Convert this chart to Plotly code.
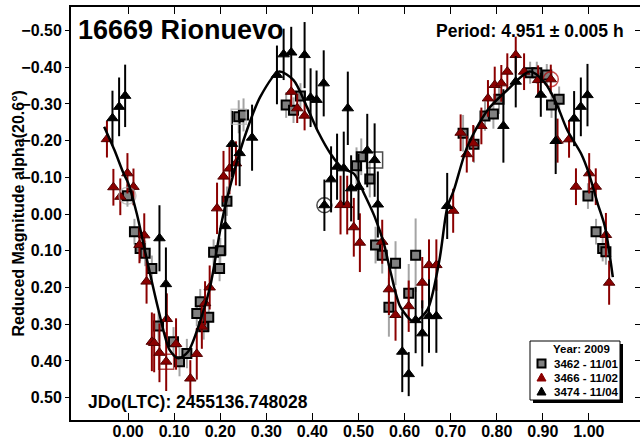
import plotly.graph_objects as go

FONT = "Liberation Sans, Arial, sans-serif"

# ---------------- data (phase, reduced magnitude, error) ----------------
gray_x = [-0.0015, 0.0137, 0.026, 0.037, 0.0515, 0.066, 0.0985, 0.1115, 0.1275, 0.149,
          0.1565, 0.164, 0.175, 0.1855, 0.2, 0.1985, 0.2145, 0.24, 0.2505, 0.343,
          0.359, 0.374, 0.4957, 0.506, 0.5245, 0.537, 0.5515, 0.5804, 0.624, 0.566,
          0.609, 0.727, 0.7507, 0.7746, 0.7928, 0.805, 0.8725, 0.887, 0.9087, 0.919,
          0.9355, 0.998, 1.0156, 1.03, 1.037]
gray_y = [-0.05, 0.048, 0.094, 0.107, 0.148, 0.305, 0.348, 0.402, 0.380, 0.271,
          0.239, 0.307, 0.281, 0.104, 0.100, 0.148, -0.035, -0.265, -0.27, -0.297,
          -0.283, -0.3215, -0.1316, -0.156, -0.0954, 0.0845, 0.112, 0.134, 0.112, 0.254,
          0.216, -0.22, -0.19, -0.267, -0.2725, -0.3125, -0.385, -0.385, -0.3787, -0.297,
          -0.3125, -0.049, 0.048, 0.094, 0.103]
gray_err = [0.03, 0.035, 0.035, 0.035, 0.035, 0.04, 0.04, 0.04, 0.04, 0.035,
            0.035, 0.035, 0.04, 0.035, 0.035, 0.035, 0.04, 0.045, 0.045, 0.035,
            0.035, 0.035, 0.05, 0.05, 0.05, 0.05, 0.05, 0.06, 0.10, 0.08,
            0.08, 0.05, 0.05, 0.04, 0.04, 0.04, 0.03, 0.03, 0.03, 0.035,
            0.035, 0.035, 0.035, 0.035, 0.035]

red_x = [-0.046, -0.032, -0.017, -0.0015, 0.0116, 0.035, 0.0246, 0.04, 0.084, 0.0515,
         0.0565, 0.068, 0.0826, 0.104, 0.135, 0.149, 0.16, 0.167, 0.177, 0.193,
         0.207, 0.22, 0.234, 0.354, 0.367, 0.383, 0.461, 0.4755, 0.4898, 0.503,
         0.5515, 0.566, 0.5804, 0.609, 0.6384, 0.653, 0.669, 0.7055, 0.7217, 0.735,
         0.749, 0.7667, 0.781, 0.7957, 0.81, 0.823, 0.8413, 0.8594, 0.8898, 0.9174,
         0.932, 0.957, 0.972, 1.0007, 1.015, 1.037, 1.044]
red_y = [-0.204, -0.073, -0.047, -0.111, -0.074, 0.058, 0.084, 0.184, 0.286, 0.348,
         0.351, 0.378, 0.402, 0.354, 0.448, 0.381, 0.307, 0.243, 0.200, -0.0155,
         -0.102, -0.124, -0.138, -0.333, -0.288, -0.268, -0.0245, -0.0245, 0.036, 0.078,
         0.0755, 0.205, 0.275, 0.251, 0.187, 0.139, 0.139, -0.009, -0.2215, -0.163,
         -0.1925, -0.24, -0.315, -0.3515, -0.356, -0.3878, -0.4332, -0.3878, -0.365, -0.367,
         -0.2, -0.2035, -0.0745, -0.111, -0.0745, 0.057, 0.187]
red_err = [0.05, 0.05, 0.05, 0.055, 0.05, 0.06, 0.05, 0.06, 0.07, 0.08,
           0.08, 0.08, 0.08, 0.07, 0.05, 0.07, 0.06, 0.06, 0.06, 0.07,
           0.07, 0.07, 0.06, 0.04, 0.04, 0.04, 0.08, 0.08, 0.08, 0.08,
           0.06, 0.07, 0.07, 0.07, 0.07, 0.07, 0.07, 0.06, 0.05, 0.05,
           0.05, 0.05, 0.05, 0.05, 0.05, 0.05, 0.05, 0.05, 0.04, 0.04,
           0.06, 0.05, 0.05, 0.055, 0.05, 0.06, 0.06]

black_x = [-0.034, -0.0196, -0.0065, 0.068, 0.082, 0.211, 0.2255, 0.242, 0.269, 0.323,
           0.3375, 0.354, 0.383, 0.396, 0.409, 0.4245, 0.426, 0.4405, 0.4535, 0.468,
           0.4768, 0.484, 0.5, 0.519, 0.535, 0.542, 0.595, 0.609, 0.624, 0.6384,
           0.653, 0.669, 0.6925, 0.8145, 0.8413, 0.8957, 0.928, 0.968, 0.9826, 0.997]
black_y = [-0.261, -0.292, -0.322, 0.066, 0.191, 0.033, -0.191, -0.166, -0.208, -0.379,
           -0.435, -0.44, -0.433, -0.317, -0.311, -0.356, -0.024, -0.0945, -0.129, -0.1245,
           -0.288, -0.07, -0.074, -0.173, -0.147, -0.026, 0.375, 0.436, 0.289, 0.325,
           0.278, 0.278, -0.022, -0.24, -0.3605, -0.325, -0.199, -0.26, -0.292, -0.324]
black_err = [0.075, 0.08, 0.085, 0.09, 0.10, 0.08, 0.09, 0.09, 0.09, 0.08,
             0.07, 0.07, 0.09, 0.08, 0.08, 0.09, 0.07, 0.09, 0.09, 0.10,
             0.10, 0.09, 0.09, 0.10, 0.10, 0.09, 0.11, 0.06, 0.09, 0.09,
             0.10, 0.10, 0.09, 0.10, 0.07, 0.06, 0.09, 0.075, 0.08, 0.085]

# fitted Fourier curve
fit_x = [-0.052, -0.03, -0.01, 0.0, 0.019, 0.04, 0.066, 0.09, 0.109, 0.13,
         0.157, 0.178, 0.204, 0.229, 0.258, 0.287, 0.327, 0.359, 0.388, 0.414,
         0.439, 0.465, 0.49, 0.512, 0.535, 0.555, 0.57, 0.591, 0.62, 0.649,
         0.675, 0.693, 0.707, 0.736, 0.78, 0.823, 0.872, 0.903, 0.928, 0.953,
         0.983, 1.0, 1.019, 1.035, 1.052]
fit_y = [-0.238, -0.175, -0.111, -0.085, 0.0, 0.12, 0.262, 0.37, 0.393, 0.375,
         0.289, 0.198, 0.016, -0.111, -0.229, -0.32, -0.388, -0.365, -0.292, -0.22,
         -0.165, -0.125, -0.11, -0.056, 0.007, 0.08, 0.16, 0.253, 0.293, 0.262,
         0.13, -0.02, -0.065, -0.183, -0.283, -0.338, -0.388, -0.36, -0.306, -0.229,
         -0.165, -0.111, -0.029, 0.035, 0.172]

# highlighted points (open symbols)
hl_x = [-0.0015, 0.24, 0.0826, 0.426, 0.535, 0.9174]
hl_y = [-0.05, -0.265, 0.402, -0.024, -0.147, -0.367]
hl_symbol = ["circle-open", "square-open", "square-open", "circle-open", "square-open", "circle-open"]
hl_color = ["#a8a8a8", "#b0b0b0", "#8b0000", "#000000", "#000000", "#b00000"]
hl_size = [17, 15, 15, 15, 16, 15]

legend_title = "Year: 2009"
series_names = ["3462 - 11/01", "3466 - 11/02", "3474 - 11/04"]
x_ticks = [0.0, 0.1, 0.2, 0.3, 0.4, 0.5, 0.6, 0.7, 0.8, 0.9, 1.0]
y_ticks = [-0.5, -0.4, -0.3, -0.2, -0.1, 0.0, 0.1, 0.2, 0.3, 0.4, 0.5]
X_RANGE = [-0.124, 1.111]
Y_RANGE = [0.561, -0.564]

RED = "#8b0000"
GRAY = "#808080"
W, H = 640, 445
ML, MR, MT, MB = 71, 0, 7, 25
PW, PH = W - ML - MR, H - MT - MB


def px(xp):
    return (xp - ML) / PW


def py(yp):
    return (H - MB - yp) / PH


fig = go.Figure()
fig.add_trace(go.Scatter(
    x=gray_x, y=gray_y, mode="markers", name=series_names[0],
    marker=dict(symbol="square", size=9, color=GRAY, line=dict(color="black", width=2)),
    error_y=dict(type="data", array=gray_err, color="#a4a4a4", thickness=2, width=0)))
fig.add_trace(go.Scatter(
    x=red_x, y=red_y, mode="markers", name=series_names[1],
    marker=dict(symbol="triangle-up", size=10, color=RED, line=dict(color="#500000", width=1)),
    error_y=dict(type="data", array=red_err, color=RED, thickness=2, width=0)))
fig.add_trace(go.Scatter(
    x=black_x, y=black_y, mode="markers", name=series_names[2],
    marker=dict(symbol="triangle-up", size=10, color="black", line=dict(color="black", width=1)),
    error_y=dict(type="data", array=black_err, color="black", thickness=2, width=0)))
fig.add_trace(go.Scatter(
    x=hl_x, y=hl_y, mode="markers", showlegend=False, hoverinfo="skip",
    marker=dict(symbol=hl_symbol, size=hl_size, color=hl_color, line=dict(width=1.5))))
fig.add_trace(go.Scatter(
    x=fit_x, y=fit_y, mode="lines", showlegend=False, yaxis="y2",
    line=dict(color="black", width=2.5, shape="spline", smoothing=0.8)))

axis_font = dict(family=FONT, size=16, color="black", weight="bold")

fig.update_layout(
    width=W, height=H,
    margin=dict(l=ML, r=MR, t=MT, b=MB, autoexpand=False),
    paper_bgcolor="white", plot_bgcolor="white",
    font=dict(family=FONT, color="black"),
    showlegend=False,
    xaxis=dict(range=X_RANGE, tickvals=x_ticks, tickformat=".2f", ticks="inside", ticklen=7,
               tickwidth=1, tickcolor="black", showline=True, linewidth=2, linecolor="black",
               mirror="ticks", showgrid=False, zeroline=False, tickfont=axis_font,
               ticklabelstandoff=-4),
    yaxis=dict(range=Y_RANGE, tickvals=y_ticks, tickformat=".2f", ticks="outside", ticklen=4,
               tickwidth=1, tickcolor="black", showline=True, linewidth=2, linecolor="black",
               showgrid=False, zeroline=False, tickfont=axis_font),
    yaxis2=dict(range=Y_RANGE, tickvals=y_ticks, overlaying="y", side="right", ticks="inside",
                ticklen=5, tickwidth=1, tickcolor="black", showticklabels=False,
                showline=True, linewidth=2, linecolor="black", showgrid=False, zeroline=False),
)

# y axis title
fig.add_annotation(text="Reduced Magnitude alpha(20.6°)", xref="paper", yref="paper",
                   x=px(18), y=0.5, textangle=-90, xanchor="center", yanchor="middle",
                   showarrow=False, font=dict(family=FONT, size=16, color="black", weight="bold"))

fig.add_annotation(text="16669 Rionuevo", xref="paper", yref="paper", x=px(76), y=py(30),
                   xanchor="left", yanchor="middle", showarrow=False,
                   font=dict(family=FONT, size=27, color="black", weight="bold"))
fig.add_annotation(text="Period: 4.951 ± 0.005 h", xref="paper", yref="paper", x=px(626), y=py(30.5),
                   xanchor="right", yanchor="middle", showarrow=False,
                   font=dict(family=FONT, size=17.5, color="black", weight="bold"))
fig.add_annotation(text="JDo(LTC): 2455136.748028", xref="paper", yref="paper", x=px(86), y=py(402),
                   xanchor="left", yanchor="middle", showarrow=False,
                   font=dict(family=FONT, size=17.5, color="black", weight="bold"))

# ---- legend box (drawn as decoration) ----
LX0, LX1, LY0, LY1 = 530, 620, 341, 400
fig.add_shape(type="rect", xref="paper", yref="paper", x0=px(LX0 + 3), x1=px(LX1 + 3),
              y0=py(LY0 + 3), y1=py(LY1 + 3), fillcolor="black", line=dict(width=0))
fig.add_shape(type="rect", xref="paper", yref="paper", x0=px(LX0), x1=px(LX1),
              y0=py(LY0), y1=py(LY1), fillcolor="white", line=dict(color="black", width=1))
fig.add_annotation(text=legend_title, xref="paper", yref="paper", x=px(581), y=py(348.5),
                   xanchor="center", yanchor="middle", showarrow=False,
                   font=dict(family=FONT, size=11.5, color="black", weight="bold"))
row_y = [363.5, 377.5, 391.5]
sym_x = 541.5
for name, ry in zip(series_names, row_y):
    fig.add_annotation(text=name, xref="paper", yref="paper", x=px(552), y=py(ry),
                       xanchor="left", yanchor="middle", showarrow=False,
                       font=dict(family=FONT, size=11.5, color="black", weight="bold"))
# symbols
fig.add_shape(type="rect", xref="paper", yref="paper", x0=px(sym_x - 4), x1=px(sym_x + 4),
              y0=py(row_y[0] - 4), y1=py(row_y[0] + 4), fillcolor=GRAY,
              line=dict(color="black", width=2))
for ry, col in zip(row_y[1:], [RED, "black"]):
    path = "M {:.5f},{:.5f} L {:.5f},{:.5f} L {:.5f},{:.5f} Z".format(
        px(sym_x - 4.5), py(ry + 3.5), px(sym_x + 4.5), py(ry + 3.5), px(sym_x), py(ry - 4.5))
    fig.add_shape(type="path", xref="paper", yref="paper", path=path, fillcolor=col,
                  line=dict(color=col, width=1))

fig.write_html("out.html", config={"displayModeBar": False},
               post_script="document.body.style.margin='0';")
